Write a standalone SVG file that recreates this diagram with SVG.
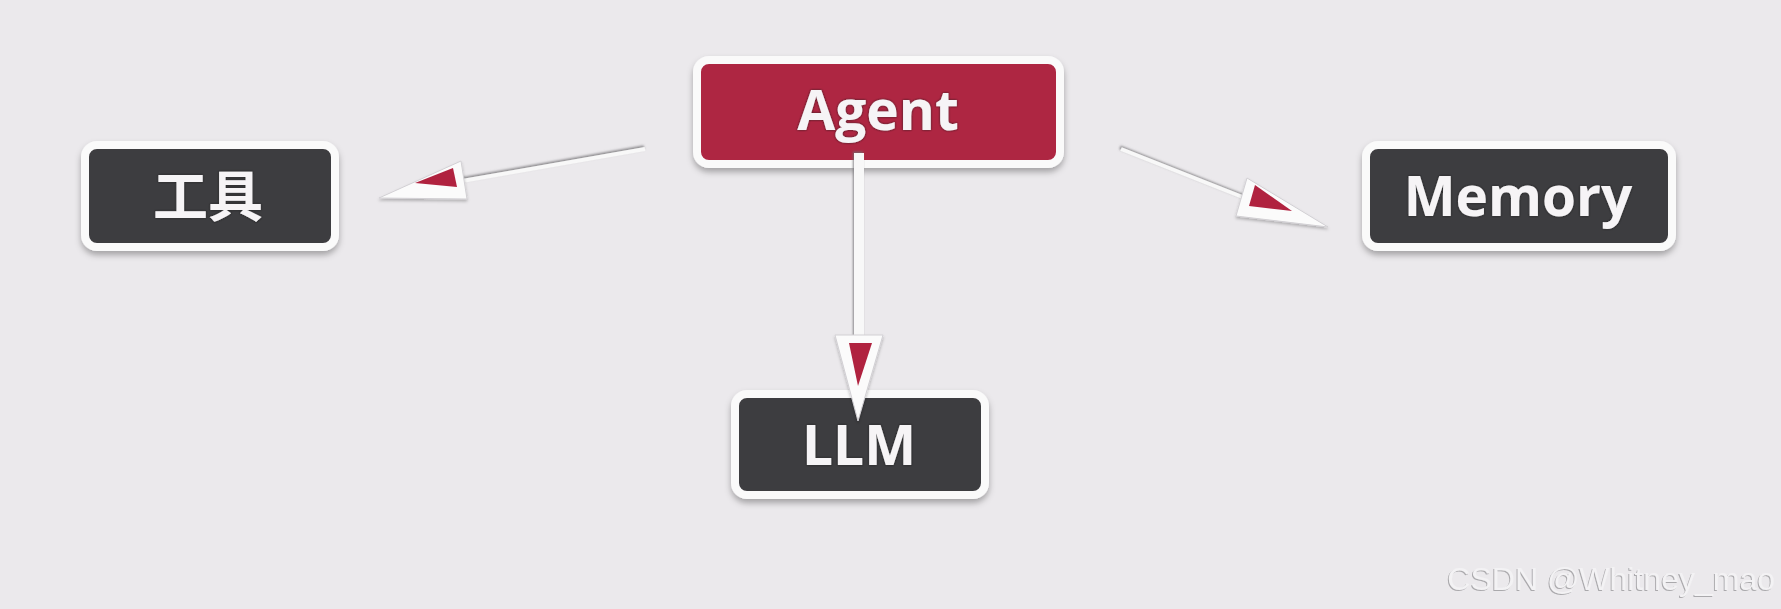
<svg xmlns="http://www.w3.org/2000/svg" width="1781" height="609" viewBox="0 0 1781 609">
<defs>
<style>
.box{stroke:#fafafa;stroke-width:8;filter:url(#sh)}
.dark{fill:#3e3d40}
.red{fill:#ae2643}
.lbl{font-family:"Open Sans","Noto Sans CJK SC",sans-serif;font-weight:700;font-size:55px;fill:#f6f4f6;text-anchor:middle;filter:url(#tsh)}
.ln{stroke:#f8f8f8;stroke-width:4;fill:none;stroke-linecap:butt;filter:url(#lsh)}
.ahw{fill:#fbfbfb;stroke:#d2d0d4;stroke-width:1;filter:url(#ash)}
.ahr{fill:#b0223f}
.wm{font-family:"Liberation Sans",Arial,sans-serif;font-size:32px;fill:#f3f2f4;filter:url(#wsh)}
</style>
<filter id="sh" x="-10%" y="-20%" width="120%" height="150%">
<feDropShadow dx="0" dy="4" stdDeviation="3" flood-color="#000" flood-opacity="0.3"/>
</filter>
<filter id="tsh" x="-10%" y="-20%" width="120%" height="150%">
<feDropShadow dx="0" dy="0" stdDeviation="1.2" flood-color="#1a1a1a" flood-opacity="0.9"/>
</filter>
<filter id="lsh" filterUnits="userSpaceOnUse" x="0" y="0" width="1781" height="609">
<feDropShadow dx="-1" dy="-1.5" stdDeviation="1" flood-color="#6f6e72" flood-opacity="0.8"/>
</filter>
<filter id="ash" x="-20%" y="-20%" width="140%" height="150%">
<feDropShadow dx="0" dy="2" stdDeviation="1.5" flood-color="#000" flood-opacity="0.25"/>
</filter>
<filter id="wsh" x="-5%" y="-20%" width="110%" height="150%">
<feDropShadow dx="-1" dy="1" stdDeviation="0.6" flood-color="#9a999c" flood-opacity="0.8"/>
</filter>
</defs>
<rect width="1781" height="609" fill="#ebe9ec"/>

<g id="agent">
  <rect class="box red" x="697" y="60" width="363" height="104" rx="12"/>
  <text class="lbl" x="878" y="130">Agent</text>
</g>

<g id="tools">
  <rect class="box dark" x="85" y="145" width="250" height="102" rx="12"/>
  <text class="lbl" x="208" y="216" font-size="52">工具</text>
</g>

<g id="memory">
  <rect class="box dark" x="1366" y="145" width="306" height="102" rx="12"/>
  <text class="lbl" x="1518" y="216">Memory</text>
</g>

<g id="llm">
  <rect class="box dark" x="735" y="394" width="250" height="101" rx="12"/>
  <text class="lbl" x="859" y="465">LLM</text>
</g>

<g id="connectors">
  <!-- Agent -> LLM -->
  <line class="ln" style="stroke-width:10" x1="859" y1="153" x2="859" y2="338"/>
  <polygon class="ahw" points="835,335 883,335 858,421"/>
  <polygon class="ahr" points="849,343 872,343 858,386"/>
  <!-- Agent -> 工具 -->
  <line class="ln" x1="645" y1="149" x2="462" y2="181"/>
  <polygon class="ahw" points="461,161 467,199 379,198"/>
  <polygon class="ahr" points="453,168 457,187 415,183"/>
  <!-- Agent -> Memory -->
  <line class="ln" x1="1121" y1="149" x2="1245" y2="198"/>
  <polygon class="ahw" points="1247,178 1236,216 1328,227"/>
  <polygon class="ahr" points="1255,185 1249,206 1292,211"/>
</g>

<text class="wm" x="1775" y="590" text-anchor="end">CSDN @Whitney_mao</text>
</svg>
